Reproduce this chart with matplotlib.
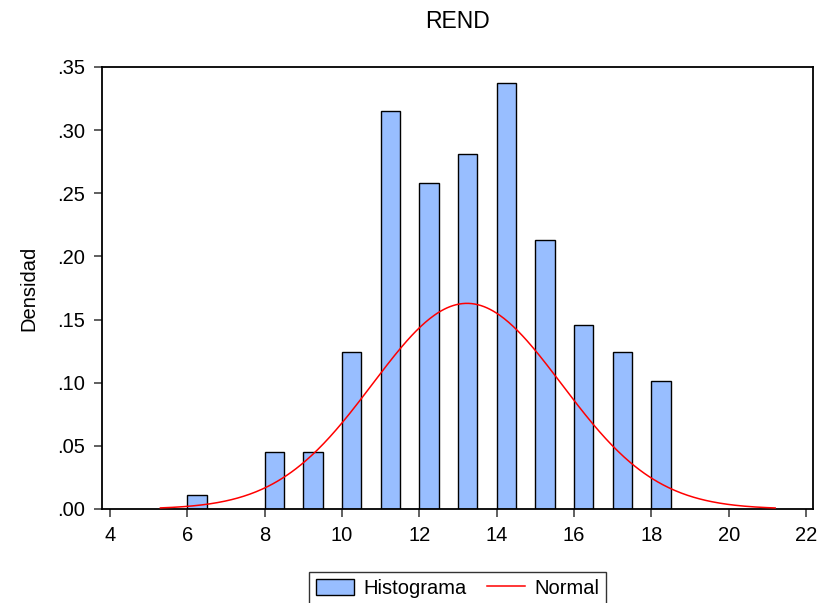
import numpy as np
import matplotlib
matplotlib.use("Agg")
import matplotlib.pyplot as plt
from matplotlib.ticker import FuncFormatter, MultipleLocator

# --- data ---
bin_left = [6, 8, 9, 10, 11, 12, 13, 14, 15, 16, 17, 18]
density = [0.011, 0.045, 0.045, 0.124, 0.315, 0.258, 0.281, 0.337, 0.213, 0.146, 0.124, 0.101]
bin_width = 0.5

# fitted normal (mean / sd of the series), drawn over the range shown
normal_mean = 13.23
normal_sd = 2.45
normal_range = [5.3, 21.2]

plt.rcParams['font.family'] = ['Liberation Sans', 'DejaVu Sans']

fig = plt.figure(figsize=(8.22, 6.03), dpi=100)
ax = fig.add_axes([0.1241, 0.1559, 0.8650, 0.7330])

bars = ax.bar(bin_left, density, width=bin_width, align='edge',
              color='#98BEFF', edgecolor='black', linewidth=1.0, label='Histograma', zorder=2)

xs = np.linspace(normal_range[0], normal_range[1], 400)
ys = np.exp(-0.5 * ((xs - normal_mean) / normal_sd) ** 2) / (normal_sd * np.sqrt(2 * np.pi))
line, = ax.plot(xs, ys, color='#FF0000', linewidth=1.1, label='Normal', zorder=3)

ax.set_xlim(3.79, 22.18)
ax.set_ylim(0, 0.35)
ax.xaxis.set_major_locator(MultipleLocator(2))
ax.yaxis.set_major_locator(MultipleLocator(0.05))
ax.yaxis.set_major_formatter(FuncFormatter(lambda v, p: f"{v:.2f}".lstrip('0')))

ax.tick_params(axis='both', direction='out', length=6, width=1.2, color='#444444',
               labelsize=14.5, pad=6)
for s in ax.spines.values():
    s.set_linewidth(1.3)
    s.set_color('black')

ax.set_title('REND', fontsize=16.5, pad=28)
ax.set_ylabel('Densidad', fontsize=14.5, labelpad=14)

leg = ax.legend([bars, line], ['Histograma', 'Normal'],
                loc='upper center', bbox_to_anchor=(0.5, -0.142), ncol=2,
                fontsize=14.5, frameon=True, fancybox=False, shadow=False,
                handlelength=1.9, handleheight=0.85, columnspacing=1.0,
                borderpad=0.35, handletextpad=0.45, borderaxespad=0)
leg.get_frame().set_edgecolor('black')
leg.get_frame().set_linewidth(1.0)

fig.savefig('out.png', dpi=100)
